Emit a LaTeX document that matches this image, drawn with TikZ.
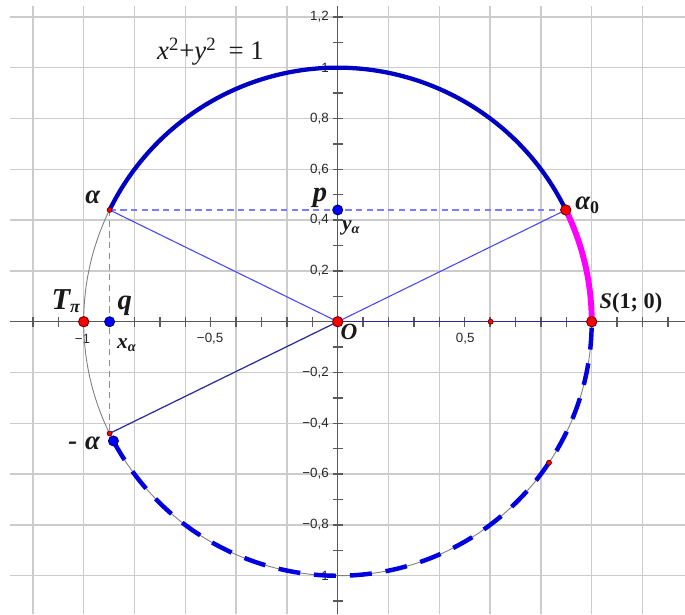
\documentclass[tikz,border=0pt]{standalone}
\usepackage{fontspec}
\setmainfont{Liberation Serif}
\newfontfamily\tickfont{Liberation Sans}
\definecolor{gridc}{RGB}{204,204,204}
\definecolor{axisc}{RGB}{90,90,90}
\definecolor{tickc}{RGB}{40,40,40}
\definecolor{navyc}{RGB}{45,45,150}
\definecolor{radc}{RGB}{70,70,255}
\definecolor{lightdash}{RGB}{125,125,255}
\definecolor{uparcc}{RGB}{0,0,195}
\definecolor{dnarcc}{RGB}{0,0,225}
\definecolor{magc}{RGB}{255,0,255}
\definecolor{dotred}{RGB}{255,0,0}
\definecolor{dotredline}{RGB}{110,0,0}
\definecolor{dotblue}{RGB}{0,0,255}
\definecolor{dotblueline}{RGB}{0,0,110}
\definecolor{textc}{RGB}{25,25,25}
\begin{document}
\begin{tikzpicture}[x=5cm,y=5cm,
  gridline/.style={draw=gridc, line width=0.8pt},
  axisline/.style={draw=axisc, line width=0.7pt},
  ticklbl/.style={font=\tickfont\fontsize{7.5}{7.5}\selectfont, text=tickc, inner sep=0pt},
  lbl/.style={inner sep=0pt, anchor=base west, text=textc},
  thincircle/.style={draw=gray, line width=0.5pt},
  uparc/.style={draw=uparcc, line width=2.4pt},
  magarc/.style={draw=magc, line width=3.3pt},
  dnarc/.style={draw=dnarcc, line width=2.5pt, dash pattern=on 12.3pt off 7.8pt},
  radline/.style={draw=radc, line width=0.6pt},
  navyline/.style={draw=navyc, line width=0.7pt},
  projline/.style={draw=lightdash, line width=0.7pt, dash pattern=on 3.5pt off 2.5pt},
  bigred/.style={circle, fill=dotred, draw=dotredline, line width=0.5pt, minimum size=5.8pt, inner sep=0pt},
  bigblue/.style={circle, fill=dotblue, draw=dotblueline, line width=0.5pt, minimum size=5.6pt, inner sep=0pt},
  smallred/.style={circle, fill=dotred, draw=dotredline, line width=0.4pt, minimum size=2.8pt, inner sep=0pt}
]
\useasboundingbox (-1.3295,-1.1508) rectangle (1.3673,1.2665);
% grid
\foreach \i in {-6,...,6} \draw[gridline] (\i*0.2,-1.1508) -- (\i*0.2,1.243);
\foreach \j in {-5,...,6} \draw[gridline] (-1.29,\j*0.2) -- (1.3673,\j*0.2);
% axes
\draw[axisline] (-1.29,0) -- (1.3673,0);
\draw[axisline] (0,-1.1508) -- (0,1.243);
\foreach \i in {-12,...,13} \draw[axisline] (\i/10,-0.0197) -- (\i/10,0.0197);
\foreach \j in {-11,...,12} \draw[axisline] (-0.0197,\j/10) -- (0.0197,\j/10);
% tick labels
\foreach \v/\t in {1.2/{1,2},1/{1},0.8/{0,8},0.6/{0,6},0.4/{0,4},0.2/{0,2},-0.2/{−0,2},-0.4/{−0,4},-0.6/{−0,6},-0.8/{−0,8},-1/{−1}}
  \node[ticklbl, anchor=east] at (-0.034,\v) {\t};
\node[ticklbl] (tm1) at (-1.005,-0.068) {−1};
\node[ticklbl] (tm05) at (-0.502,-0.068) {−0,5};
\node[ticklbl] (tp05) at (0.502,-0.068) {0,5};
% points
\coordinate (O) at (0,0);
\coordinate (S) at (1,0);
\coordinate (T) at (-1,0);
\coordinate (A0) at (26.1:1);
\coordinate (A) at (153.9:1);
\coordinate (Am) at (-153.9:1);
\coordinate (Bm) at (-152:1);
\coordinate (P) at (0,{sin(26.1)});
\coordinate (Q) at ({cos(153.9)},0);
\coordinate (X6) at (0.602,0);
\coordinate (C) at (-33.7:1);
% navy axis segment
\draw[navyline] (O) -- (S);
% circle and arcs
\draw[thincircle] (O) circle[radius=1];
\draw[uparc] (A0) arc[start angle=26.1, end angle=153.9, radius=1];
\draw[magarc] (S) arc[start angle=0, end angle=26.1, radius=1];
\draw[dnarc] (Bm) arc[start angle=-152, end angle=0, radius=1];
% segments
\draw[radline] (O) -- (A);
\draw[radline] (O) -- (A0);
\draw[navyline] (O) -- (Am);
\draw[projline] (A) -- (A0);
\draw[projline] (A) -- (Am);
% dots
\node[bigblue] (nBm) at (Bm) {};
\node[smallred] (nAm) at (Am) {};
\node[smallred] (nA) at (A) {};
\node[smallred] (nX6) at (X6) {};
\node[smallred] (nC) at (C) {};
\node[bigred] (nA0) at (A0) {};
\node[bigred] (nO) at (O) {};
\node[bigred] (nS) at (S) {};
\node[bigred] (nT) at (T) {};
\node[bigblue] (nP) at (P) {};
\node[bigblue] (nQ) at (Q) {};
% labels
\node[lbl, font=\fontsize{15}{15}\selectfont] (eq) at (-0.712,1.031) {\textit{x}\textsuperscript{2}+\textit{y}\textsuperscript{2}\hspace{0.45em}=\hspace{0.25em}1};
\node[lbl, font=\fontsize{15}{15}\selectfont\bfseries\itshape] (lA) at (-0.995,0.466) {α};
\node[lbl, font=\fontsize{15}{15}\selectfont\bfseries\itshape] (lAm) at (-1.062,-0.503) {-\hspace{0.3em}α};
\node[lbl, font=\fontsize{17}{17}\selectfont\bfseries\itshape] (lT) at (-1.128,0.049) {T\raisebox{-0.25ex}{\fontsize{10}{10}\selectfont π}};
\node[lbl, font=\fontsize{16}{16}\selectfont\bfseries\itshape] (lQ) at (-0.868,0.049) {q};
\node[lbl, font=\fontsize{12}{12}\selectfont\bfseries\itshape] (lX) at (-0.870,-0.105) {x\raisebox{-0.35ex}{\fontsize{8}{8}\selectfont α}};
\node[lbl, font=\fontsize{16}{16}\selectfont\bfseries\itshape] (lP) at (-0.099,0.472) {p};
\node[lbl, font=\fontsize{12}{12}\selectfont\bfseries\itshape] (lY) at (0.016,0.361) {y\raisebox{-0.35ex}{\fontsize{8}{8}\selectfont α}};
\node[lbl, font=\fontsize{13}{13}\selectfont\bfseries\itshape] (lO) at (0.010,-0.072) {O};
\node[lbl, font=\fontsize{15}{15}\selectfont\bfseries\itshape] (lA0) at (0.934,0.440) {α\raisebox{-0.3ex}{\fontsize{10}{10}\selectfont\upshape 0}};
\node[lbl, font=\fontsize{12.5}{12.5}\selectfont\bfseries] (lS) at (1.030,0.053) {\textit{S}(1; 0)};
\end{tikzpicture}
\end{document}
